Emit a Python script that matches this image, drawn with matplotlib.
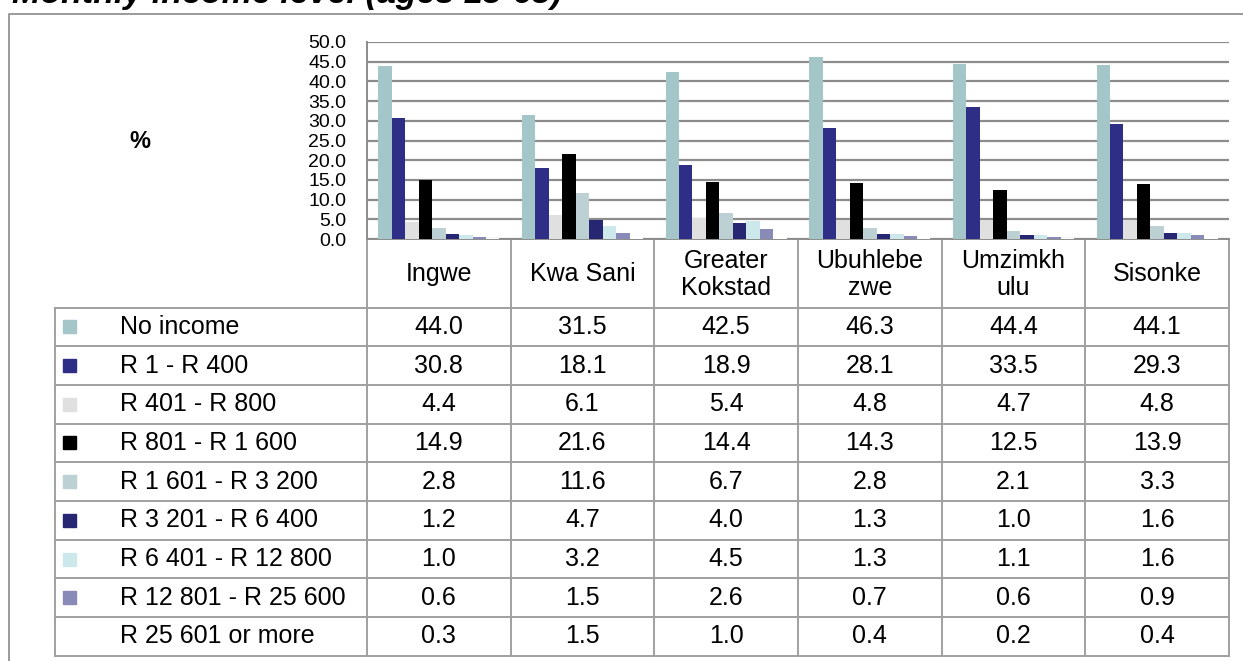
import matplotlib
matplotlib.use("Agg")
import matplotlib.pyplot as plt
import numpy as np

plt.rcParams['font.family'] = ['Liberation Sans', 'DejaVu Sans']

title = "Monthly income level (ages 15-65)"
regions = ['Ingwe', 'Kwa Sani', 'Greater\nKokstad', 'Ubuhlebe\nzwe', 'Umzimkh\nulu', 'Sisonke']
bands = ['No income', 'R 1 - R 400', 'R 401 - R 800', 'R 801 - R 1 600',
         'R 1 601 - R 3 200', 'R 3 201 - R 6 400', 'R 6 401 - R 12 800',
         'R 12 801 - R 25 600', 'R 25 601 or more']
colors = ['#a5c6c8', '#2e2e87', '#e0e0e0', '#000000', '#bdd0d3',
          '#262673', '#cde8eb', '#8a8ab8', '#ffffff']

no_income = [44.0, 31.5, 42.5, 46.3, 44.4, 44.1]
r1_400 = [30.8, 18.1, 18.9, 28.1, 33.5, 29.3]
r401_800 = [4.4, 6.1, 5.4, 4.8, 4.7, 4.8]
r801_1600 = [14.9, 21.6, 14.4, 14.3, 12.5, 13.9]
r1601_3200 = [2.8, 11.6, 6.7, 2.8, 2.1, 3.3]
r3201_6400 = [1.2, 4.7, 4.0, 1.3, 1.0, 1.6]
r6401_12800 = [1.0, 3.2, 4.5, 1.3, 1.1, 1.6]
r12801_25600 = [0.6, 1.5, 2.6, 0.7, 0.6, 0.9]
r25601_more = [0.3, 1.5, 1.0, 0.4, 0.2, 0.4]
series = [no_income, r1_400, r401_800, r801_1600, r1601_3200,
          r3201_6400, r6401_12800, r12801_25600, r25601_more]

yticks = np.arange(0, 50.1, 5)

W, H = 1243, 661
fig = plt.figure(figsize=(W / 100, H / 100), dpi=100)

# background axes in pixel coords for frame, table and labels
bg = fig.add_axes([0, 0, 1, 1])
bg.set_xlim(0, W)
bg.set_ylim(H, 0)
bg.axis('off')

plot_l, plot_r, plot_t, plot_b = 367, 1229, 42, 239
col_w = (plot_r - plot_l) / len(regions)
head_b = 307.5
row_h = 38.7
leg_l = 55
grey = '#a0a0a0'

# outer frame
bg.plot([9, 9, W], [H, 13.5, 13.5], color='#9a9a9a', lw=1.4)
bg.text(12, 3, title, fontsize=24.5, fontweight='bold', style='italic',
        va='baseline', ha='left')
bg.text(140, 141, '%', fontsize=17, fontweight='bold', ha='center', va='center')

# table grid
table_b = head_b + row_h * len(bands)
for k in range(len(regions) + 1):
    x = plot_l + k * col_w
    bg.plot([x, x], [plot_b, table_b], color=grey, lw=1.4)
bg.plot([leg_l, leg_l], [head_b, table_b], color=grey, lw=1.4)
for r in range(len(bands) + 1):
    y = head_b + r * row_h
    bg.plot([leg_l, plot_r], [y, y], color=grey, lw=1.4)

for k, name in enumerate(regions):
    xc = plot_l + (k + 0.5) * col_w
    bg.text(xc, (plot_b + head_b) / 2 + 1, name, fontsize=18, ha='center',
            va='center', linespacing=1.15)

for r, (band, vals, c) in enumerate(zip(bands, series, colors)):
    yc = head_b + (r + 0.5) * row_h
    if c != '#ffffff':
        bg.add_patch(plt.Rectangle((63.5, yc - 6.5), 13, 13, color=c))
    bg.text(120, yc, band, fontsize=18, ha='left', va='center')
    for k, v in enumerate(vals):
        xc = plot_l + (k + 0.5) * col_w
        bg.text(xc, yc, f'{v:.1f}', fontsize=18, ha='center', va='center')

# bar chart
ax = fig.add_axes([plot_l / W, 1 - plot_b / H, (plot_r - plot_l) / W, (plot_b - plot_t) / H])
x = np.arange(len(regions))
bw = 0.0938
n = len(series)
for j, (vals, c) in enumerate(zip(series, colors)):
    ax.bar(x + (j - (n - 1) / 2) * bw, vals, width=bw, color=c, zorder=3)

ax.set_xlim(-0.5, len(regions) - 0.5)
ax.set_ylim(0, 50)
ax.set_yticks(yticks)
ax.set_yticklabels([f'{t:.1f}' for t in yticks], fontsize=14)
ax.tick_params(axis='y', length=0, pad=15)
ax.set_xticks([])
ax.yaxis.grid(True, color='#8c8c8c', lw=1.6, zorder=1)
ax.set_axisbelow(True)
for s in ['top', 'right']:
    ax.spines[s].set_visible(False)
ax.spines['left'].set_color('#8c8c8c')
ax.spines['left'].set_linewidth(1.4)
ax.spines['bottom'].set_color('#8c8c8c')
ax.spines['bottom'].set_linewidth(1.4)
ax.patch.set_alpha(0)

fig.savefig('out.png', dpi=100)
